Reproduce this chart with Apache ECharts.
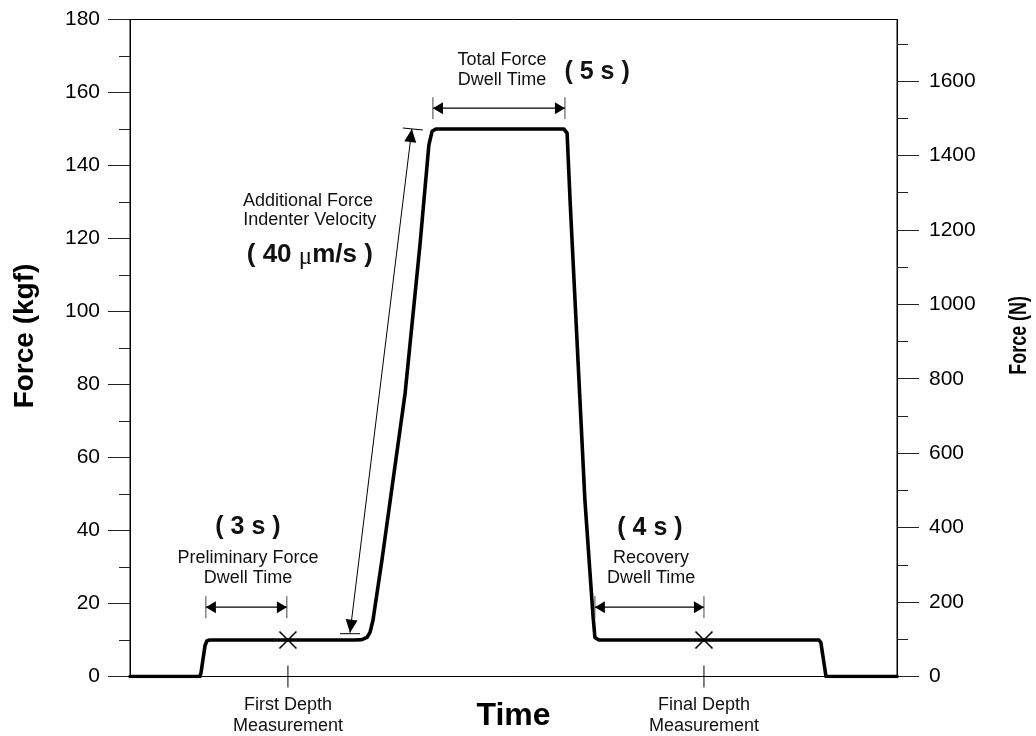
<!DOCTYPE html>
<html><head><meta charset="utf-8">
<script src="https://cdn.jsdelivr.net/npm/echarts@6/dist/echarts.min.js"></script>
<style>html,body{margin:0;padding:0;background:#fff}#c{width:1036px;height:736px}</style>
</head><body><div id="c"></div>
<script>
// ---- data ----
const timeS    = [0, 2.59, 2.63, 2.78, 2.85, 2.96, 8.33, 8.59, 8.78, 8.89, 9.00, 9.33, 10.19, 10.74, 11.07, 11.19, 11.33, 16.07, 16.19, 16.30, 16.85, 17.15, 17.22, 17.37, 25.52, 25.59, 25.78, 28.41];
const forceKgf = [0, 0, 1, 8.5, 9.8, 10, 10, 10.1, 10.7, 12.1, 15.4, 31.8, 77.6, 118.2, 145.6, 149.4, 150, 150, 148.9, 130.5, 48.3, 16.7, 10.7, 10, 10, 9.3, 0, 0];
const timeMax = 28.41;
const kgfTicksMax = 180;
const N_PER_KGF = 9.80665;
const newtonMajor = [0, 200, 400, 600, 800, 1000, 1200, 1400, 1600];
const newtonMinor = [100, 300, 500, 700, 900, 1100, 1300, 1500, 1700];

const measureT = [5.85, 21.26];
const measureKgf = [10, 10];
const measureLabels = ['First Depth\nMeasurement', 'Final Depth\nMeasurement'];

const dimStart = [2.81, 11.22, 17.22];
const dimEnd   = [5.81, 16.11, 21.26];
const dimLevel = [19, 155.7, 19];

const velFrom = [8.15, 12];
const velTo   = [10.44, 150];

const annoText = ['( 3 s )', 'Preliminary Force', 'Dwell Time', '( 4 s )', 'Recovery', 'Dwell Time',
                  'Total Force', 'Dwell Time', '( 5 s )', 'Additional Force', 'Indenter Velocity', '( 40 μm/s )'];
const annoT   = [4.37, 4.37, 4.37, 19.26, 19.3, 19.3, 13.78, 13.78, 17.3, 6.59, 6.66, 6.66];
const annoKgf = [40.9, 32.4, 26.9, 40.6, 32.4, 26.9, 168.9, 163.4, 165.6, 130.2, 125.0, 115.4];
const annoKind = ['big', 'small', 'small', 'big', 'small', 'small', 'small', 'small', 'big', 'small', 'small', 'vel'];

// ---- chart ----
const FONT = '"Liberation Sans", Arial, Helvetica, sans-serif';
const chart = echarts.init(document.getElementById('c'), null, { renderer: 'canvas' });

function nearestLabel(v) {
  let best = 0;
  for (let i = 1; i < measureT.length; i++) if (Math.abs(measureT[i] - v) < Math.abs(measureT[best] - v)) best = i;
  return measureLabels[best];
}

function renderMeasure(params, api) {
  const i = params.dataIndex;
  const p = api.coord([measureT[i], measureKgf[i]]);
  const base = api.coord([measureT[i], 0]);
  const s = 8.5;
  const st = { stroke: '#000', lineWidth: 1.6 };
  return { type: 'group', children: [
    { type: 'line', shape: { x1: p[0] - s, y1: p[1] - s, x2: p[0] + s, y2: p[1] + s }, style: st },
    { type: 'line', shape: { x1: p[0] - s, y1: p[1] + s, x2: p[0] + s, y2: p[1] - s }, style: st },
    { type: 'line', shape: { x1: base[0], y1: base[1] - 11, x2: base[0], y2: base[1] + 11 }, style: { stroke: '#000', lineWidth: 1 } }
  ]};
}

function renderDim(params, api) {
  const i = params.dataIndex;
  const a = api.coord([dimStart[i], dimLevel[i]]);
  const b = api.coord([dimEnd[i], dimLevel[i]]);
  const h = 11, ah = 10, aw = 6;
  return { type: 'group', children: [
    { type: 'line', shape: { x1: a[0], y1: a[1], x2: b[0], y2: b[1] }, style: { stroke: '#000', lineWidth: 1.3 } },
    { type: 'line', shape: { x1: a[0], y1: a[1] - h, x2: a[0], y2: a[1] + h }, style: { stroke: '#444', lineWidth: 1 } },
    { type: 'line', shape: { x1: b[0], y1: b[1] - h, x2: b[0], y2: b[1] + h }, style: { stroke: '#444', lineWidth: 1 } },
    { type: 'polygon', shape: { points: [[a[0], a[1]], [a[0] + ah, a[1] - aw], [a[0] + ah, a[1] + aw]] }, style: { fill: '#000' } },
    { type: 'polygon', shape: { points: [[b[0], b[1]], [b[0] - ah, b[1] - aw], [b[0] - ah, b[1] + aw]] }, style: { fill: '#000' } }
  ]};
}

function renderVel(params, api) {
  const a = api.coord(velFrom);
  const b = api.coord(velTo);
  const dx = b[0] - a[0], dy = b[1] - a[1];
  const L = Math.sqrt(dx * dx + dy * dy);
  const ux = dx / L, uy = dy / L, nx = -uy, ny = ux;
  const ah = 13, aw = 6;
  const head = (p, dir) => [[p[0], p[1]],
    [p[0] - dir * ux * ah + nx * aw, p[1] - dir * uy * ah + ny * aw],
    [p[0] - dir * ux * ah - nx * aw, p[1] - dir * uy * ah - ny * aw]];
  return { type: 'group', children: [
    { type: 'line', shape: { x1: a[0], y1: a[1], x2: b[0], y2: b[1] }, style: { stroke: '#000', lineWidth: 1 } },
    { type: 'line', shape: { x1: a[0] - 10, y1: a[1] + 1, x2: a[0] + 10, y2: a[1] + 1 }, style: { stroke: '#000', lineWidth: 1 } },
    { type: 'line', shape: { x1: b[0] - 9, y1: b[1] - 1, x2: b[0] + 11, y2: b[1] + 1 }, style: { stroke: '#000', lineWidth: 1 } },
    { type: 'polygon', shape: { points: head(a, -1) }, style: { fill: '#000' } },
    { type: 'polygon', shape: { points: head(b, 1) }, style: { fill: '#000' } }
  ]};
}

function renderText(params, api) {
  const i = params.dataIndex;
  const p = api.coord([annoT[i], annoKgf[i]]);
  const kind = annoKind[i];
  let style;
  if (kind === 'small') {
    style = { text: annoText[i], fontSize: 18, fontFamily: FONT, fill: '#111' };
  } else if (kind === 'big') {
    style = { text: annoText[i], fontSize: 25, fontWeight: 'bold', fontFamily: FONT, fill: '#111' };
  } else {
    const parts = annoText[i].split('μ');
    style = { text: '{b|' + parts[0] + '}{m|μ}{b|' + parts[1] + '}', fontFamily: FONT, fill: '#111',
      rich: { b: { fontSize: 26, fontWeight: 'bold', fontFamily: FONT, fill: '#111' },
              m: { fontSize: 25, fontFamily: '"Liberation Serif", serif', fill: '#111', padding: [5, 0, 0, 0] } } };
  }
  style.align = 'center';
  style.verticalAlign = 'middle';
  return { type: 'text', x: p[0], y: p[1], style };
}

const axisBlack = { show: true, lineStyle: { color: '#000', width: 1 } };

const option = {
  animation: false,
  backgroundColor: '#fff',
  grid: { left: 130, right: 139, top: 19.5, bottom: 59.5, show: true, borderColor: '#000', borderWidth: 1,
          backgroundColor: 'transparent', containLabel: false, outerBoundsMode: 'none' },
  graphic: [{
    type: 'text', left: 1008, top: 296, rotation: Math.PI / 2, scaleX: 0.78, silent: true,
    style: { text: 'Force (N)', fontSize: 23, fontWeight: 'bold', fontFamily: FONT, fill: '#000' }
  }],
  xAxis: [{
    type: 'value', min: 0, max: timeMax,
    axisLine: axisBlack, splitLine: { show: false },
    axisTick: { show: false },
    axisLabel: { show: true, customValues: measureT, formatter: v => nearestLabel(v), fontSize: 18, lineHeight: 21, color: '#111', margin: 18, fontFamily: FONT },
    name: 'Time', nameLocation: 'middle', nameGap: 24, nameMoveOverlap: false,
    nameTextStyle: { fontSize: 32, fontWeight: 'bold', color: '#000', fontFamily: FONT }
  }],
  yAxis: [{
    type: 'value', min: 0, max: kgfTicksMax, interval: 20, position: 'left',
    name: 'Force (kgf)', nameLocation: 'middle', nameGap: 91, nameRotate: 90, nameMoveOverlap: false,
    nameTextStyle: { fontSize: 28, fontWeight: 'bold', color: '#000', fontFamily: FONT, padding: [0, 0, 0, 24] },
    axisLine: axisBlack,
    axisTick: { show: true, length: 22, lineStyle: { color: '#222' } },
    minorTick: { show: true, splitNumber: 2, length: 11, lineStyle: { color: '#222' } },
    axisLabel: { fontSize: 21, color: '#000', margin: 30, fontFamily: FONT },
    splitLine: { show: false }, minorSplitLine: { show: false }
  }, {
    type: 'value', min: 0, max: kgfTicksMax * N_PER_KGF, position: 'right',
    axisLine: axisBlack,
    axisTick: { show: true, customValues: newtonMajor, length: 22, lineStyle: { color: '#222' } },
    axisLabel: { customValues: newtonMajor, formatter: v => String(Math.round(v)), fontSize: 21, color: '#000', margin: 32, fontFamily: FONT },
    splitLine: { show: false }
  }, {
    type: 'value', min: 0, max: kgfTicksMax * N_PER_KGF, position: 'right',
    axisLine: { show: false },
    axisTick: { show: true, customValues: newtonMinor, length: 11, lineStyle: { color: '#222' } },
    axisLabel: { show: false }, splitLine: { show: false }
  }],
  series: [
    { type: 'line', data: timeS.map((t, i) => [t, forceKgf[i]]), showSymbol: false, symbol: 'none',
      lineStyle: { color: '#000', width: 3.6, join: 'round', cap: 'round' }, z: 3, silent: true },
    { type: 'custom', renderItem: renderMeasure, data: measureT.map((t, i) => [t, measureKgf[i]]), z: 4, silent: true },
    { type: 'custom', renderItem: renderDim, data: dimStart.map((t, i) => [t, dimLevel[i]]), z: 4, silent: true },
    { type: 'custom', renderItem: renderVel, data: [[velFrom[0], velFrom[1]]], z: 4, silent: true },
    { type: 'custom', renderItem: renderText, data: annoT.map((t, i) => [t, annoKgf[i]]), z: 5, silent: true }
  ]
};
chart.setOption(option);
</script>
</body></html>
